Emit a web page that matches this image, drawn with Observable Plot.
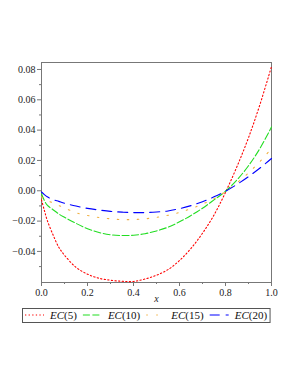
<!DOCTYPE html>
<html>
<head>
<meta charset="utf-8">
<script src="https://cdn.jsdelivr.net/npm/d3@7"></script>
<script src="https://cdn.jsdelivr.net/npm/@observablehq/plot@0.6"></script>
<style>
  html, body { margin: 0; padding: 0; background: #fff; }
  #chart svg { display: block; }
  #chart svg, #chart svg text { font-family: 'Liberation Serif', 'DejaVu Serif', serif !important; }
  #legend { display: block; }
</style>
</head>
<body>
<div id="chart"></div>
<svg id="legend" width="298" height="30"></svg>
<script>
// ---- data ----
const xs = [0, 0.0125, 0.025, 0.05, 0.075, 0.1, 0.15, 0.2, 0.25, 0.3, 0.35, 0.4, 0.45, 0.5, 0.55, 0.6, 0.65, 0.7, 0.75, 0.8, 0.85, 0.9, 0.95, 1.0];
const ec5  = [-0.006, -0.013, -0.0195, -0.029, -0.0372, -0.0425, -0.0505, -0.055, -0.0577, -0.059, -0.0597, -0.0598, -0.0582, -0.0557, -0.052, -0.046, -0.038, -0.028, -0.016, -0.001, 0.016, 0.035, 0.057, 0.082];
const ec10 = [-0.002, -0.0065, -0.0095, -0.0125, -0.0153, -0.0175, -0.0215, -0.025, -0.0275, -0.029, -0.0295, -0.0293, -0.0283, -0.0265, -0.024, -0.0205, -0.0163, -0.0115, -0.006, -0.0003, 0.0072, 0.0165, 0.028, 0.042];
const ec15 = [-0.004, -0.0055, -0.0065, -0.008, -0.0097, -0.0113, -0.0145, -0.0163, -0.0176, -0.0185, -0.019, -0.019, -0.0185, -0.0175, -0.0162, -0.0143, -0.0118, -0.0088, -0.0052, -0.0005, 0.0052, 0.0118, 0.0193, 0.028];
const ec20 = [-0.0008, -0.0025, -0.004, -0.0058, -0.007, -0.0082, -0.0101, -0.0116, -0.0127, -0.0136, -0.0141, -0.0144, -0.0144, -0.014, -0.0133, -0.0118, -0.0098, -0.0072, -0.004, -0.0003, 0.0042, 0.0093, 0.015, 0.0213];

const seriesNames = ["5", "10", "15", "20"];
const seriesValues = [ec5, ec10, ec15, ec20];
const seriesColors = ["#ff0000", "#22dd22", "#f0b040", "#0000ff"];
const seriesDash = ["1.3,2.3", "7,2.5", "1.5,8.5", "10,6"];

const xMajor = [0, 0.2, 0.4, 0.6, 0.8, 1.0];
const xMinor = [0.1, 0.3, 0.5, 0.7, 0.9];
const yMajor = [-0.04, -0.02, 0, 0.02, 0.04, 0.06, 0.08];
const yMinor = [-0.05, -0.03, -0.01, 0.01, 0.03, 0.05, 0.07];
const xLabel = "x";

// ---- build table ----
const rows = [];
seriesNames.forEach((n, i) => {
  xs.forEach((x, j) => rows.push({ series: n, x, y: seriesValues[i][j] }));
});

const font = "'Liberation Serif', 'DejaVu Serif', serif";
const axisColor = "#777";

const chart = Plot.plot({
  width: 298,
  height: 305,
  marginLeft: 41,
  marginRight: 27,
  marginTop: 62,
  marginBottom: 23,
  style: { fontFamily: font, fontSize: "10px", color: "#222", background: "#fff", overflow: "visible" },
  x: { domain: [0, 1] },
  y: { domain: [-0.0605, 0.0846] },
  marks: [
    Plot.frame({ stroke: axisColor, strokeWidth: 1 }),
    Plot.axisY(yMajor, { tickSize: 4, tickPadding: 2, tickFormat: d3.format(".2f"), stroke: axisColor, fill: "#222", label: null }),
    Plot.axisY(yMinor, { tickSize: 2, text: null, stroke: axisColor, label: null }),
    Plot.axisX(xMajor, { tickSize: 4, tickPadding: 2, tickFormat: d3.format(".1f"), stroke: axisColor, fill: "#222", label: null }),
    Plot.axisX(xMinor, { tickSize: 2, text: null, stroke: axisColor, label: null }),
    ...seriesNames.map((n, i) =>
      Plot.line(rows.filter(r => r.series === n), {
        x: "x", y: "y",
        stroke: seriesColors[i],
        strokeWidth: 1.1,
        strokeDasharray: seriesDash[i],
        curve: "catmull-rom"
      })
    ),
    Plot.text([xLabel], { frameAnchor: "bottom", dy: 19, text: d => d, fontStyle: "italic", fontSize: 10, fill: "#222" })
  ]
});
document.getElementById("chart").appendChild(chart);

// ---- legend ----
const leg = d3.select("#legend");
const box = leg.append("rect").attr("fill", "none").attr("stroke", "#555").attr("stroke-width", 1);
let xpos = 25;
seriesNames.forEach((n, i) => {
  leg.append("line")
    .attr("x1", xpos).attr("x2", xpos + 19)
    .attr("y1", 10).attr("y2", 10)
    .attr("stroke", seriesColors[i]).attr("stroke-width", 1.1)
    .attr("stroke-dasharray", seriesDash[i]);
  const t = leg.append("text")
    .attr("x", xpos + 25).attr("y", 14)
    .attr("font-family", font).attr("font-size", 11).attr("fill", "#111");
  t.append("tspan").attr("font-style", "italic").text("EC");
  t.append("tspan").text("(" + n + ")");
  const w = t.node().getComputedTextLength();
  xpos = xpos + 25 + w + 6;
});
box.attr("x", 22.5).attr("y", 3.5).attr("width", xpos - 6 + 3 - 22.5).attr("height", 14);
</script>
</body>
</html>
